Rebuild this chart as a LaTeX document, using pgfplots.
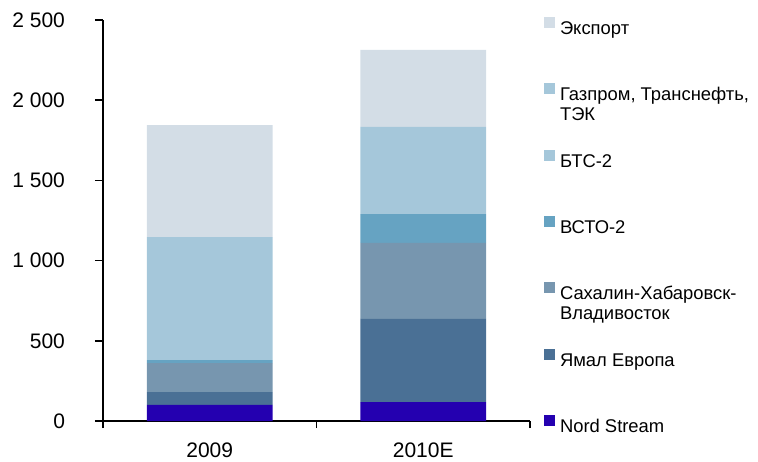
\documentclass[border=0pt]{standalone}
\usepackage{fontspec}
\setmainfont{Liberation Sans}
\usepackage{pgfplots}
\pgfplotsset{compat=1.18}

\definecolor{cExport}{HTML}{D3DDE6}
\definecolor{cGazprom}{HTML}{A5C7DA}
\definecolor{cBTS}{HTML}{A5C7DA}
\definecolor{cVSTO}{HTML}{66A3C2}
\definecolor{cSakh}{HTML}{7796AF}
\definecolor{cYamal}{HTML}{4A7095}
\definecolor{cNord}{HTML}{2400B0}

\begin{document}
\begin{tikzpicture}
\begin{axis}[
  at={(0pt,0pt)}, anchor=south west,
  scale only axis,
  width=213.5pt, height=200.5pt,
  ybar stacked, bar width=0.59,
  xmin=0.5, xmax=2.5, ymin=0, ymax=2500,
  axis x line=bottom, axis y line=left,
  axis line style={-, line width=0.8pt},
  tick align=outside,
  major tick length=4pt, minor tick length=3.5pt,
  tick style={black, line width=0.8pt},
  xtick={1,2}, xticklabels={2009,2010E},
  major x tick style={draw=none},
  minor xtick={0.5,1.5,2.5},
  ytick={0,500,1000,1500,2000,2500},
  /pgf/number format/assume math mode=true,
  /pgf/number format/1000 sep={\ },
  tick label style={font=\fontsize{10.5pt}{12pt}\selectfont},
  yticklabel style={xshift=-11.5pt},
  xticklabel style={yshift=-3.5pt},
  reverse legend,
  legend cell align=left,
  legend image code/.code={\fill[#1] (0pt,0pt) rectangle (5.5pt,5.5pt);},
  legend style={at={(1.0328,1.0075)}, anchor=north west, draw=none, fill=none,
    inner sep=0pt, outer sep=0pt, row sep=24.4pt, column sep=2.5pt,
    font=\fontsize{9.2pt}{10pt}\selectfont,
    nodes={inner sep=0pt, text height=6.5pt, text depth=0pt}},
]
\addplot[fill=cNord, draw=none] coordinates {(1,100) (2,118)};
\addlegendentry{Nord Stream}
\addplot[fill=cYamal, draw=none] coordinates {(1,80) (2,518)};
\addlegendentry{Ямал Европа}
\addplot[fill=cSakh, draw=none] coordinates {(1,181) (2,474)};
\addlegendentry{\begin{tabular}[t]{@{}l@{}}Сахалин-Хабаровск-\\Владивосток\end{tabular}}
\addplot[fill=cVSTO, draw=none] coordinates {(1,18) (2,180)};
\addlegendentry{ВСТО-2}
\addplot[fill=cBTS, draw=none] coordinates {(1,0) (2,0)};
\addlegendentry{БТС-2}
\addplot[fill=cGazprom, draw=none] coordinates {(1,767) (2,543)};
\addlegendentry{\begin{tabular}[t]{@{}l@{}}Газпром, Транснефть,\\ТЭК\end{tabular}}
\addplot[fill=cExport, draw=none] coordinates {(1,698) (2,480)};
\addlegendentry{Экспорт}
\end{axis}
\pgfresetboundingbox
\path (-51.5pt,-20pt) rectangle (327.5pt,210.5pt);
\end{tikzpicture}
\end{document}
